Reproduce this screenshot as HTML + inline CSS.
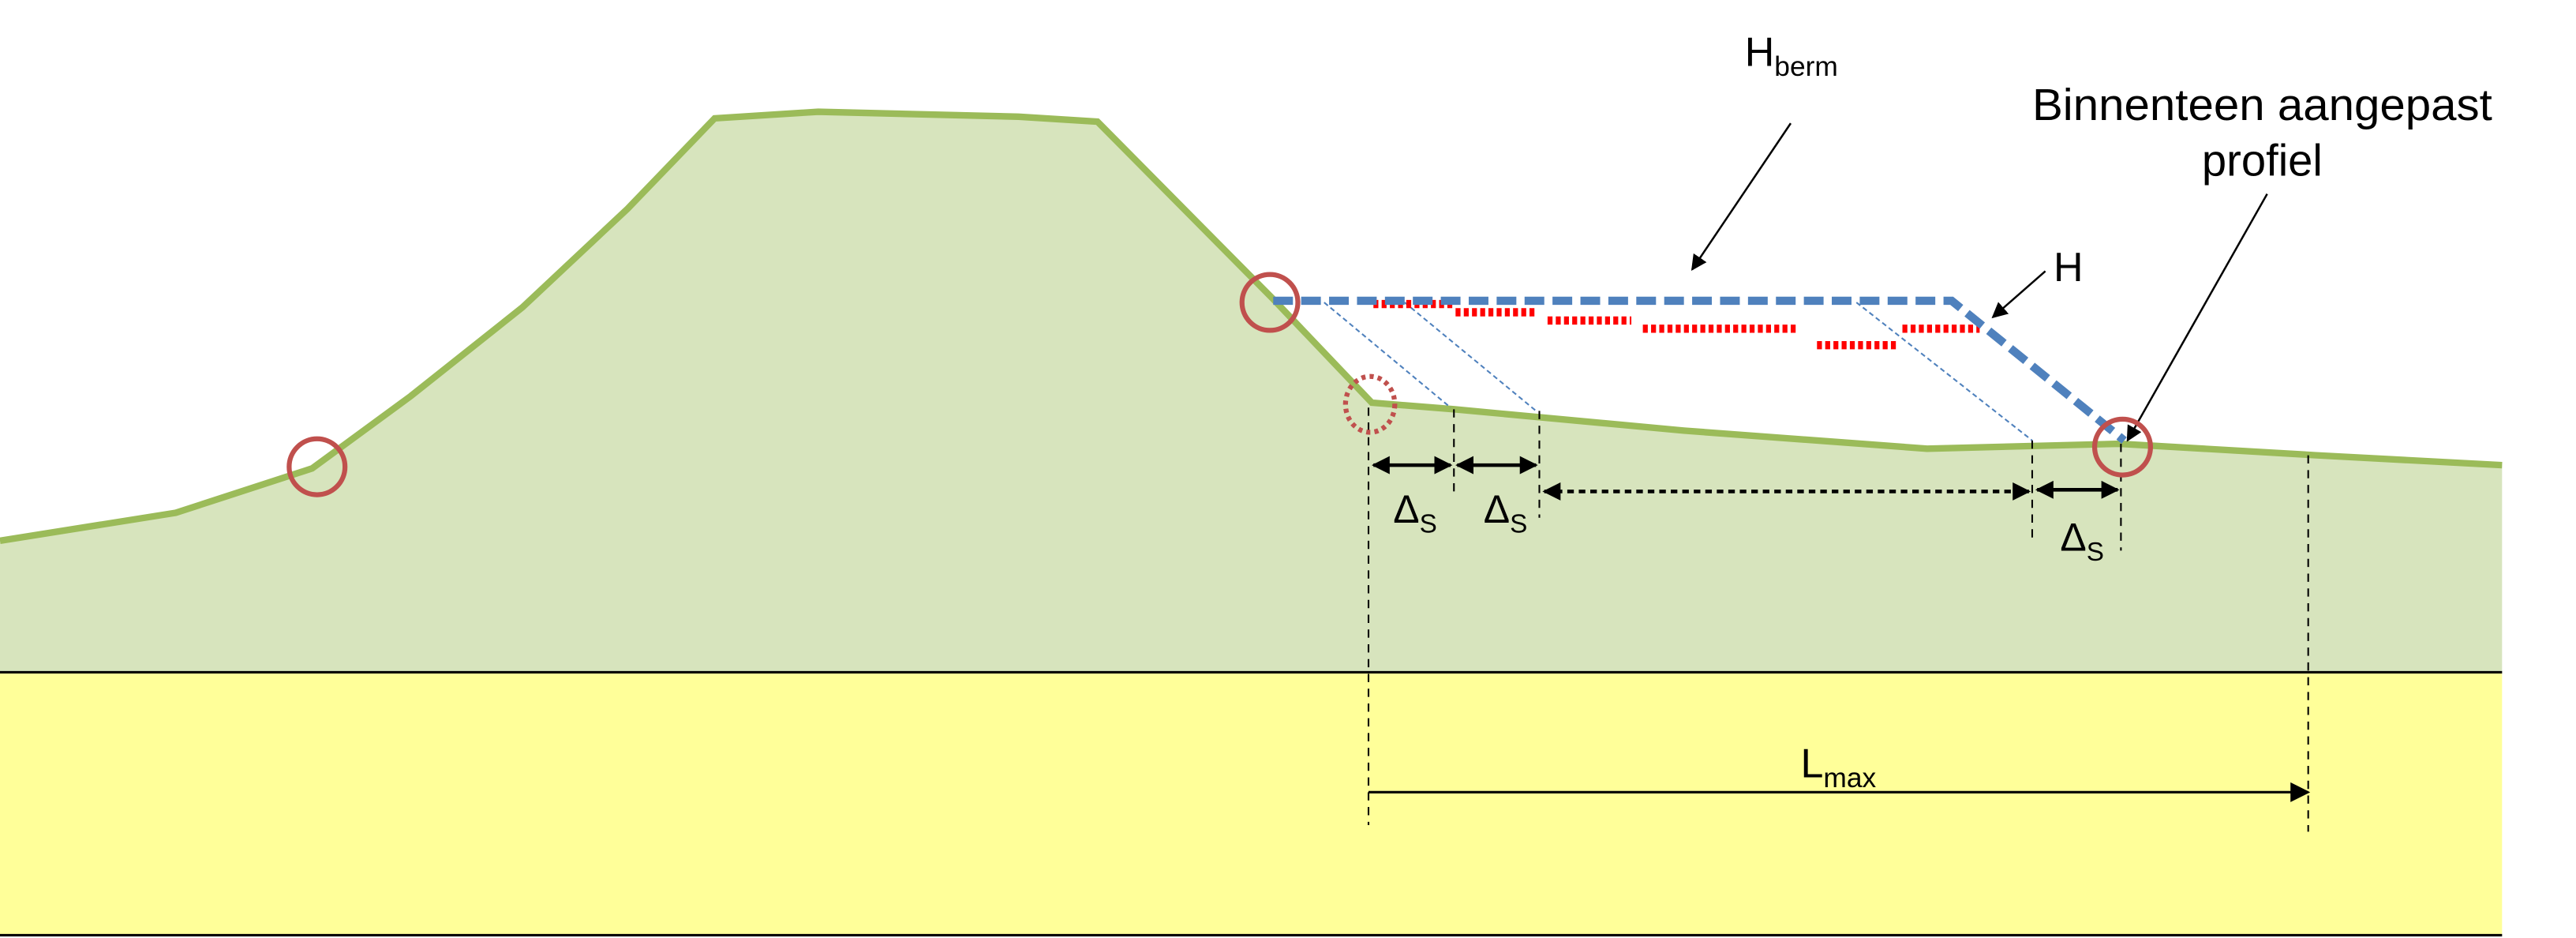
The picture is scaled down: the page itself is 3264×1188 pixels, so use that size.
<!DOCTYPE html>
<html><head><meta charset="utf-8"><style>html,body{margin:0;padding:0;background:#fff}svg{display:block}
text{font-family:"Liberation Sans Narrow","Liberation Sans",sans-serif;fill:#000}</style></head>
<body>
<svg width="3264" height="1188" viewBox="0 0 1568 570.7" preserveAspectRatio="none" xmlns="http://www.w3.org/2000/svg">
<defs>
<marker id="ah" viewBox="0 0 10 10" refX="9" refY="5" markerWidth="5" markerHeight="5" orient="auto-start-reverse" markerUnits="strokeWidth"><path d="M0,0L10,5L0,10z" fill="#000"/></marker>
<marker id="ah2" viewBox="0 0 10 10" refX="9" refY="5" markerWidth="8" markerHeight="8" orient="auto-start-reverse" markerUnits="strokeWidth"><path d="M0,0L10,5L0,10z" fill="#000"/></marker>
</defs>
<rect x="0" y="409" width="1523" height="160" fill="#FFFF99"/>
<path d="M0,329 L107,312 L190,285 L250,241 L318,187 L382,127 L435,72 L498,68 L620,71 L668,74 L775,182 L835,245 L885,249 L1025,262 L1173,273 L1290,270 L1410,277 L1523,283 L1523,409 L0,409 Z" fill="#D7E4BD"/>
<path d="M0,329 L107,312 L190,285 L250,241 L318,187 L382,127 L435,72 L498,68 L620,71 L668,74 L775,182 L835,245 L885,249 L1025,262 L1173,273 L1290,270 L1410,277 L1523,283" fill="none" stroke="#9BBB59" stroke-width="4"/>
<line x1="0" y1="409" x2="1523" y2="409" stroke="#000" stroke-width="1.5"/>
<line x1="0" y1="569" x2="1523" y2="569" stroke="#000" stroke-width="1.5"/>
<g stroke="#4F81BD" stroke-width="1" stroke-dasharray="3,2" fill="none">
<line x1="806" y1="184" x2="883" y2="248"/>
<line x1="855" y1="184" x2="935" y2="250"/>
<line x1="1130" y1="184" x2="1237" y2="268"/>
</g>
<g stroke="#FF0000" stroke-width="5" stroke-dasharray="3,2" fill="none">
<line x1="836" y1="185" x2="885" y2="185"/>
<line x1="886" y1="190" x2="935" y2="190"/>
<line x1="942" y1="195" x2="993" y2="195"/>
<line x1="1000" y1="200" x2="1093" y2="200"/>
<line x1="1106" y1="210" x2="1155" y2="210"/>
<line x1="1158" y1="200" x2="1205" y2="200"/>
</g>
<path d="M775,183 L1188,183 L1293,268" fill="none" stroke="#4F81BD" stroke-width="5" stroke-dasharray="12,5"/>
<g stroke="#000" stroke-width="1" stroke-dasharray="5,4">
<line x1="833" y1="248" x2="833" y2="502"/>
<line x1="885" y1="249" x2="885" y2="300"/>
<line x1="937" y1="250" x2="937" y2="315"/>
<line x1="1237" y1="268" x2="1237" y2="330"/>
<line x1="1291" y1="270" x2="1291" y2="335"/>
<line x1="1405" y1="277" x2="1405" y2="506"/>
</g>
<g stroke="#000" stroke-width="2.2" fill="none">
<line x1="836" y1="283" x2="883" y2="283" marker-start="url(#ah)" marker-end="url(#ah)"/>
<line x1="887" y1="283" x2="935" y2="283" marker-start="url(#ah)" marker-end="url(#ah)"/>
<line x1="940" y1="299" x2="1235" y2="299" stroke-dasharray="4,3" marker-start="url(#ah)" marker-end="url(#ah)"/>
<line x1="1240" y1="298" x2="1289" y2="298" marker-start="url(#ah)" marker-end="url(#ah)"/>
</g>
<line x1="833" y1="482" x2="1405" y2="482" stroke="#000" stroke-width="1.5" marker-end="url(#ah2)"/>
<g stroke="#000" stroke-width="1.2" fill="none">
<line x1="1090" y1="75" x2="1030" y2="164" marker-end="url(#ah2)"/>
<line x1="1245" y1="165" x2="1213" y2="193" marker-end="url(#ah2)"/>
<line x1="1380" y1="118" x2="1295" y2="268" marker-end="url(#ah2)"/>
</g>
<g fill="none" stroke="#C0504D" stroke-width="3">
<ellipse cx="193" cy="284" rx="17" ry="17"/>
<ellipse cx="773" cy="184" rx="17" ry="17"/>
<ellipse cx="1292" cy="272" rx="17" ry="17"/>
<ellipse cx="834" cy="246" rx="15" ry="17" stroke-dasharray="2.5,2.5"/>
</g>
<text x="1062" y="40" font-size="25">H<tspan font-size="17" dy="6">berm</tspan></text>
<text x="1250" y="171" font-size="25">H</text>
<text x="1377" y="73" font-size="27" text-anchor="middle" textLength="280" lengthAdjust="spacingAndGlyphs">Binnenteen aangepast</text>
<text x="1377" y="107" font-size="27" text-anchor="middle">profiel</text>
<text x="848" y="318" font-size="24">Δ<tspan font-size="16" dy="6">S</tspan></text>
<text x="903" y="318" font-size="24">Δ<tspan font-size="16" dy="6">S</tspan></text>
<text x="1254" y="335" font-size="24">Δ<tspan font-size="16" dy="6">S</tspan></text>
<text x="1096" y="473" font-size="25">L<tspan font-size="17" dy="6">max</tspan></text>
</svg>
</body></html>
